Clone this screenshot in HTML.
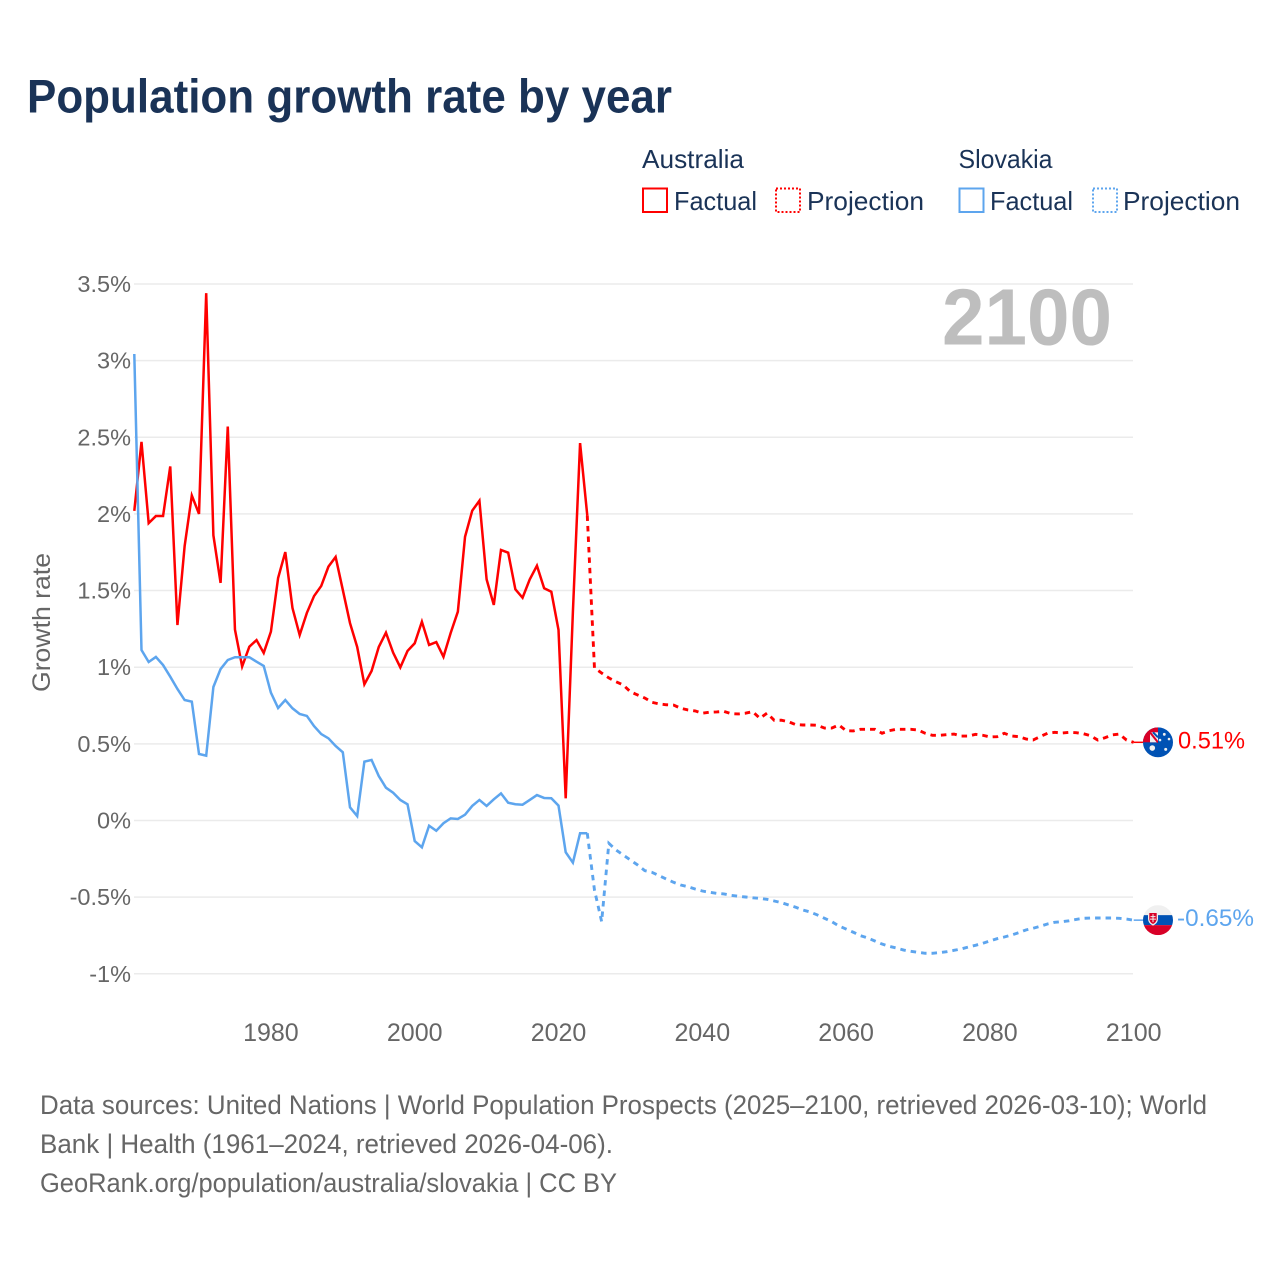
<!DOCTYPE html>
<html lang="en">
<head>
<meta charset="utf-8">
<title>Population growth rate by year</title>
<style>
html,body{margin:0;padding:0;background:#fff}
svg{display:block}
text{font-family:"Liberation Sans",sans-serif}
</style>
</head>
<body>
<svg id="chart" xmlns="http://www.w3.org/2000/svg" width="1280" height="1280" viewBox="0 0 1280 1280">
  <rect width="1280" height="1280" fill="#fff"/>
  <text x="27" y="112.5" font-size="47" font-weight="bold" fill="#1a3357" textLength="645" lengthAdjust="spacingAndGlyphs">Population growth rate by year</text>

  <g fill="#1a3357" font-size="26">
    <text x="642" y="168" textLength="102" lengthAdjust="spacingAndGlyphs">Australia</text>
    <text x="958.5" y="168" textLength="94" lengthAdjust="spacingAndGlyphs">Slovakia</text>
    <rect x="643" y="188.5" width="24" height="23.5" fill="none" stroke="#ff0000" stroke-width="2"/>
    <text x="674" y="210" textLength="83" lengthAdjust="spacingAndGlyphs">Factual</text>
    <rect x="776" y="188.5" width="24" height="23.5" fill="none" stroke="#ff0000" stroke-width="2" stroke-dasharray="2 2"/>
    <text x="807" y="210" textLength="117" lengthAdjust="spacingAndGlyphs">Projection</text>
    <rect x="959.5" y="188.5" width="24" height="23.5" fill="none" stroke="#5da5ee" stroke-width="2"/>
    <text x="990" y="210" textLength="83" lengthAdjust="spacingAndGlyphs">Factual</text>
    <rect x="1093" y="188.5" width="24" height="23.5" fill="none" stroke="#5da5ee" stroke-width="2" stroke-dasharray="2 2"/>
    <text x="1123" y="210" textLength="117" lengthAdjust="spacingAndGlyphs">Projection</text>
  </g>

  <g id="grid"></g>
  <text x="942" y="344.5" font-size="80" font-weight="bold" fill="#bebebe" textLength="170" lengthAdjust="spacingAndGlyphs">2100</text>
  <g id="yticks" font-size="23.5" fill="#666" text-anchor="end"></g>
  <g id="xticks" font-size="25" fill="#666" text-anchor="middle"></g>
  <text transform="translate(50 692) rotate(-90)" font-size="25" fill="#666" textLength="139" lengthAdjust="spacingAndGlyphs">Growth rate</text>

  <g id="series" fill="none" stroke-width="2.5" stroke-linejoin="miter"></g>

  <g id="flag-australia">
    <clipPath id="clip-au"><circle r="15"/></clipPath>
    <g clip-path="url(#clip-au)">
      <rect x="-15" y="-15" width="30" height="30" fill="#0052b4"/>
      <rect x="-15" y="-15" width="15" height="15" fill="#d80027"/>
      <rect x="-8" y="-10" width="8" height="10" fill="#f0f0f0"/>
      <path d="M-8 -10L0 0" stroke="#d80027" stroke-width="2"/>
      <path d="M-5 -10L0 -5" stroke="#0052b4" stroke-width="2"/>
      <path d="M0 -15h2v15h-2z" fill="#0052b4"/>
    </g>
    <circle cx="-5.7" cy="5.7" r="2.8" fill="#f0f0f0"/>
    <circle cx="6.3" cy="-8" r="1.4" fill="#f0f0f0"/>
    <circle cx="11" cy="-3.3" r="1.3" fill="#f0f0f0"/>
    <circle cx="2" cy="-2.3" r="1.3" fill="#f0f0f0"/>
    <circle cx="7.7" cy="7" r="1.5" fill="#f0f0f0"/>
  </g>
  <g id="flag-slovakia">
    <clipPath id="clip-sk"><circle r="15"/></clipPath>
    <g clip-path="url(#clip-sk)">
      <rect x="-15" y="-15" width="30" height="30" fill="#f0f0f0"/>
      <rect x="-15" y="-5" width="30" height="10" fill="#0052b4"/>
      <rect x="-15" y="5" width="30" height="10" fill="#d80027"/>
    </g>
    <path d="M-10 -8.5h10v7c0 4 -3 6 -5 7c-2 -1 -5 -3 -5 -7z" fill="#f0f0f0"/>
    <path d="M-8.7 -7.2h7.4v5.7c0 3 -2 4.5 -3.7 5.4c-1.7 -0.9 -3.7 -2.4 -3.7 -5.4z" fill="#d80027"/>
    <path d="M-5.5 -6h1v2h2v1h-2v1.5h2.500v1h-2.500v2.500h-1v-2.500h-2.500v-1h2.500v-1.500h-2v-1h2z" fill="#f0f0f0"/>
  </g>
  <text id="label-australia" x="1178" font-size="24.500" fill="#ff0000" textLength="67" lengthAdjust="spacingAndGlyphs"></text>
  <text id="label-slovakia" x="1177" font-size="24.500" fill="#5da5ee" textLength="77" lengthAdjust="spacingAndGlyphs"></text>

  <g font-size="26.500" fill="#666">
    <text x="40" y="1114" textLength="1167" lengthAdjust="spacingAndGlyphs">Data sources: United Nations | World Population Prospects (2025–2100, retrieved 2026-03-10); World</text>
    <text x="40" y="1153" textLength="573" lengthAdjust="spacingAndGlyphs">Bank | Health (1961–2024, retrieved 2026-04-06).</text>
    <text x="40" y="1192" textLength="577" lengthAdjust="spacingAndGlyphs">GeoRank.org/population/australia/slovakia | CC BY</text>
  </g>
</svg>
<script>
const factualStartYear = 1961;
const projectionStartYear = 2025;
const yTickValues = [3.5, 3, 2.5, 2, 1.5, 1, 0.5, 0, -0.5, -1];
const xTickYears = [1980, 2000, 2020, 2040, 2060, 2080, 2100];
const australiaFactual = [
  2.02, 2.47, 1.94, 1.986, 1.986, 2.31, 1.275, 1.79, 2.12, 2.0,
  3.44, 1.86, 1.55, 2.57, 1.245, 1.005, 1.134, 1.177, 1.093, 1.232,
  1.582, 1.751, 1.386, 1.21, 1.354, 1.464, 1.53, 1.656, 1.719, 1.504,
  1.288, 1.132, 0.888, 0.975, 1.132, 1.225, 1.095, 0.999, 1.106, 1.156,
  1.297, 1.145, 1.164, 1.068, 1.223, 1.362, 1.851, 2.021, 2.086, 1.573,
  1.406, 1.765, 1.747, 1.508, 1.453, 1.573, 1.662, 1.515, 1.492, 1.243,
  0.145, 1.36, 2.462, 1.99
];
const australiaProjection = [
  0.995, 0.962, 0.93, 0.905, 0.884, 0.84, 0.819, 0.799, 0.771, 0.76,
  0.755, 0.753, 0.732, 0.721, 0.715, 0.70, 0.706, 0.708, 0.712, 0.697,
  0.695, 0.70, 0.71, 0.667, 0.70, 0.654, 0.654, 0.644, 0.625, 0.623,
  0.623, 0.621, 0.603, 0.603, 0.623, 0.586, 0.584, 0.595, 0.595, 0.595,
  0.569, 0.586, 0.595, 0.595, 0.595, 0.59, 0.569, 0.556, 0.556, 0.56,
  0.564, 0.551, 0.551, 0.562, 0.556, 0.545, 0.547, 0.569, 0.551, 0.547,
  0.532, 0.525, 0.547, 0.569, 0.575, 0.571, 0.575, 0.573, 0.566, 0.553,
  0.525, 0.54, 0.558, 0.564, 0.525, 0.51
];
const slovakiaFactual = [
  3.043, 1.112, 1.034, 1.067, 1.014, 0.938, 0.858, 0.786, 0.775, 0.434,
  0.423, 0.871, 0.988, 1.047, 1.065, 1.065, 1.065, 1.036, 1.008, 0.834,
  0.734, 0.786, 0.732, 0.695, 0.682, 0.616, 0.564, 0.536, 0.486, 0.445,
  0.086, 0.029, 0.384, 0.395, 0.29, 0.214, 0.181, 0.134, 0.106, -0.134,
  -0.175, -0.034, -0.067, -0.018, 0.014, 0.01, 0.038, 0.095, 0.134, 0.095,
  0.138, 0.177, 0.116, 0.106, 0.103, 0.134, 0.166, 0.147, 0.145, 0.097,
  -0.207, -0.275, -0.083, -0.083
];
const slovakiaProjection = [
  -0.453, -0.66, -0.149, -0.192, -0.225, -0.258, -0.29, -0.327, -0.338, -0.36,
  -0.382, -0.403, -0.421, -0.432, -0.447, -0.46, -0.468, -0.475, -0.479, -0.488,
  -0.494, -0.499, -0.504, -0.508, -0.514, -0.525, -0.536, -0.551, -0.566, -0.584,
  -0.597, -0.616, -0.638, -0.66, -0.688, -0.708, -0.729, -0.751, -0.766, -0.786,
  -0.806, -0.821, -0.832, -0.845, -0.853, -0.86, -0.866, -0.866, -0.862, -0.856,
  -0.847, -0.838, -0.825, -0.814, -0.801, -0.786, -0.771, -0.76, -0.747, -0.732,
  -0.714, -0.703, -0.69, -0.675, -0.664, -0.66, -0.654, -0.645, -0.638, -0.636,
  -0.636, -0.636, -0.636, -0.638, -0.643, -0.65
];

const SVG_NS = 'http://www.w3.org/2000/svg';
function xScale(year) { return 134.3 + (year - 1961) * 7.19; }
function yScale(value) { return 820.5 - value * 153.3; }
function formatTick(value) { return value + '%'; }
function toPoints(values, startYear) {
  return values.map(function (v, i) {
    return xScale(startYear + i).toFixed(2) + ',' + yScale(v).toFixed(2);
  }).join(' ');
}

const gridGroup = document.getElementById('grid');
const yTickGroup = document.getElementById('yticks');
yTickValues.forEach(function (value) {
  const line = document.createElementNS(SVG_NS, 'line');
  
  
  line.setAttribute('x1', 134);
  line.setAttribute('x2', 1133);
  line.setAttribute('y1', yScale(value));
  line.setAttribute('y2', yScale(value));
  line.setAttribute('stroke', '#ebebeb');
  line.setAttribute('stroke-width', 1.5);
  gridGroup.appendChild(line);
  const label = document.createElementNS(SVG_NS, 'text');
  
  
  label.setAttribute('x', 131);
  label.setAttribute('y', yScale(value) + 8);
  label.textContent = formatTick(value);
  yTickGroup.appendChild(label);
});

const xTickGroup = document.getElementById('xticks');
xTickYears.forEach(function (year) {
  const label = document.createElementNS(SVG_NS, 'text');
  
  
  label.setAttribute('x', xScale(year));
  label.setAttribute('y', 1041);
  label.textContent = year;
  xTickGroup.appendChild(label);
});

const seriesGroup = document.getElementById('series');
function drawCountry(country, color, factual, projection) {
  const factualLine = document.createElementNS(SVG_NS, 'polyline');
  
  
  factualLine.setAttribute('points', toPoints(factual, factualStartYear));
  factualLine.setAttribute('stroke', color);
  seriesGroup.appendChild(factualLine);

  const lastFactual = factual[factual.length - 1];
  const projectionLine = document.createElementNS(SVG_NS, 'polyline');
  
  
  projectionLine.setAttribute('points', toPoints([lastFactual].concat(projection), projectionStartYear - 1));
  projectionLine.setAttribute('stroke', color);
  projectionLine.setAttribute('stroke-width', 2.9);
  projectionLine.setAttribute('stroke-dasharray', '5.5 5');
  seriesGroup.appendChild(projectionLine);

  const lastValue = projection[projection.length - 1];
  const connector = document.createElementNS(SVG_NS, 'line');
  
  
  connector.setAttribute('x1', xScale(2100));
  connector.setAttribute('x2', 1143);
  connector.setAttribute('y1', yScale(lastValue));
  connector.setAttribute('y2', yScale(lastValue));
  connector.setAttribute('stroke', color);
  connector.setAttribute('stroke-width', 1.5);
  seriesGroup.appendChild(connector);

  document.getElementById('flag-' + country).setAttribute('transform', 'translate(1158 ' + yScale(lastValue) + ')');
  const endLabel = document.getElementById('label-' + country);
  endLabel.setAttribute('y', yScale(lastValue) + 6);
  endLabel.textContent = lastValue.toFixed(2) + '%';
}
drawCountry('australia', '#ff0000', australiaFactual, australiaProjection);
drawCountry('slovakia', '#5da5ee', slovakiaFactual, slovakiaProjection);
</script>
</body>
</html>
